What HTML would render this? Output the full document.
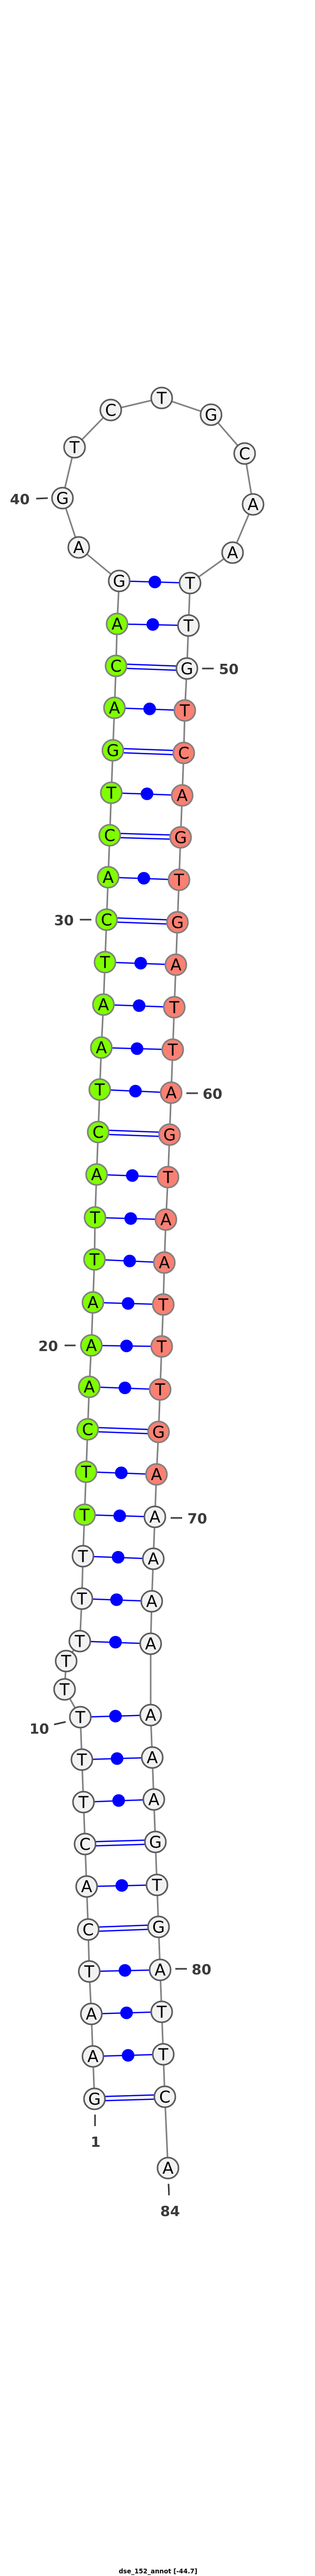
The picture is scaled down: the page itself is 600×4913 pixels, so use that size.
<!DOCTYPE html>
<html><head><meta charset="utf-8"><style>
html,body{margin:0;padding:0;background:#fff;}
svg{display:block;}
.bb{stroke:#808080;stroke-width:3;fill:none}
.bp{stroke:#0000ff;stroke-width:2.5}
.dot{fill:#0000ff}
.w{fill:#f2f2f2;stroke:#5a5a5a;stroke-width:3}
.g{fill:#7fff00;stroke:#808080;stroke-width:3}
.s{fill:#fa8072;stroke:#808080;stroke-width:3}
.n{font-family:"DejaVu Sans","Liberation Sans",sans-serif;font-size:31px;fill:#000;text-anchor:middle;dominant-baseline:central}
.lb{font-family:"DejaVu Sans","Liberation Sans",sans-serif;font-size:27px;font-weight:bold;fill:#3a3a3a;dominant-baseline:central}
.tk{stroke:#3a3a3a;stroke-width:3}
</style></head><body>
<svg width="600" height="4913" viewBox="0 0 600 4913" xmlns="http://www.w3.org/2000/svg">
<polyline class="bb" points="180,4003 177,3922 174,3841 170,3760 168,3680 165,3598 162,3517 159,3437 156,3356 153,3275 123,3222 126,3168 152,3130 156,3049 158,2968 161,2889 164,2807 167,2726 170,2645 174,2566 177,2484 180,2402 181,2322 184,2240 187,2159 190,2078 193,1998 197,1916 200,1835 203,1754 206,1673 209,1593 212,1512 215,1431 218,1350 221,1270 223,1190 227,1108 150,1044 119,950 142,853 211,782 308,759 402,791 466,865 482,962 443,1054 362,1112 359,1193 356,1275 352,1355 350,1436 347,1517 344,1597 341,1678 338,1759 335,1840 332,1921 329,2002 326,2084 323,2164 320,2245 316,2326 313,2408 311,2488 308,2568 305,2650 302,2731 298,2812 295,2893 292,2973 289,3054 287,3135 287,3271 290,3352 293,3432 296,3513 299,3595 302,3675 305,3757 308,3837 311,3918 314,3999 320,4135"/>
<g class="bp">
<line x1="227" y1="1108" x2="362" y2="1112"/>
<line x1="223" y1="1190" x2="359" y2="1193"/>
<line x1="218" y1="1350" x2="352" y2="1355"/>
<line x1="212" y1="1512" x2="347" y2="1517"/>
<line x1="206" y1="1673" x2="341" y2="1678"/>
<line x1="200" y1="1835" x2="335" y2="1840"/>
<line x1="197" y1="1916" x2="332" y2="1921"/>
<line x1="193" y1="1998" x2="329" y2="2002"/>
<line x1="190" y1="2078" x2="326" y2="2084"/>
<line x1="184" y1="2240" x2="320" y2="2245"/>
<line x1="181" y1="2322" x2="316" y2="2326"/>
<line x1="180" y1="2402" x2="313" y2="2408"/>
<line x1="177" y1="2484" x2="311" y2="2488"/>
<line x1="174" y1="2566" x2="308" y2="2568"/>
<line x1="170" y1="2645" x2="305" y2="2650"/>
<line x1="164" y1="2807" x2="298" y2="2812"/>
<line x1="161" y1="2889" x2="295" y2="2893"/>
<line x1="158" y1="2968" x2="292" y2="2973"/>
<line x1="156" y1="3049" x2="289" y2="3054"/>
<line x1="152" y1="3130" x2="287" y2="3135"/>
<line x1="153" y1="3275" x2="287" y2="3271"/>
<line x1="156" y1="3356" x2="290" y2="3352"/>
<line x1="159" y1="3437" x2="293" y2="3432"/>
<line x1="165" y1="3598" x2="299" y2="3595"/>
<line x1="170" y1="3760" x2="305" y2="3757"/>
<line x1="174" y1="3841" x2="308" y2="3837"/>
<line x1="177" y1="3922" x2="311" y2="3918"/>
<line x1="221" y1="1266" x2="356" y2="1271"/><line x1="221" y1="1274" x2="356" y2="1279"/>
<line x1="215" y1="1427" x2="350" y2="1432"/><line x1="215" y1="1435" x2="350" y2="1440"/>
<line x1="209" y1="1589" x2="344" y2="1593"/><line x1="209" y1="1597" x2="344" y2="1601"/>
<line x1="203" y1="1750" x2="338" y2="1755"/><line x1="203" y1="1758" x2="338" y2="1763"/>
<line x1="187" y1="2155" x2="323" y2="2160"/><line x1="187" y1="2163" x2="323" y2="2168"/>
<line x1="167" y1="2722" x2="302" y2="2727"/><line x1="167" y1="2730" x2="302" y2="2735"/>
<line x1="162" y1="3513" x2="296" y2="3509"/><line x1="162" y1="3521" x2="296" y2="3517"/>
<line x1="168" y1="3676" x2="302" y2="3671"/><line x1="168" y1="3684" x2="302" y2="3679"/>
<line x1="180" y1="3999" x2="314" y2="3995"/><line x1="180" y1="4007" x2="314" y2="4003"/>
</g>
<g class="dot">
<circle cx="295" cy="1110" r="12"/><circle cx="291" cy="1191" r="12"/>
<circle cx="285" cy="1352" r="12"/><circle cx="280" cy="1514" r="12"/>
<circle cx="274" cy="1675" r="12"/><circle cx="268" cy="1837" r="12"/>
<circle cx="265" cy="1918" r="12"/><circle cx="261" cy="2000" r="12"/>
<circle cx="258" cy="2081" r="12"/><circle cx="252" cy="2242" r="12"/>
<circle cx="249" cy="2324" r="12"/><circle cx="247" cy="2405" r="12"/>
<circle cx="244" cy="2486" r="12"/><circle cx="241" cy="2567" r="12"/>
<circle cx="238" cy="2647" r="12"/><circle cx="231" cy="2809" r="12"/>
<circle cx="228" cy="2891" r="12"/><circle cx="225" cy="2970" r="12"/>
<circle cx="222" cy="3051" r="12"/><circle cx="220" cy="3132" r="12"/>
<circle cx="220" cy="3273" r="12"/><circle cx="223" cy="3354" r="12"/>
<circle cx="226" cy="3434" r="12"/><circle cx="232" cy="3596" r="12"/>
<circle cx="238" cy="3758" r="12"/><circle cx="241" cy="3839" r="12"/>
<circle cx="244" cy="3920" r="12"/>
</g>
<g>
<circle class="w" cx="180" cy="4003" r="20"/><text class="n" x="180" y="4004">G</text>
<circle class="w" cx="177" cy="3922" r="20"/><text class="n" x="177" y="3923">A</text>
<circle class="w" cx="174" cy="3841" r="20"/><text class="n" x="174" y="3842">A</text>
<circle class="w" cx="170" cy="3760" r="20"/><text class="n" x="170" y="3761">T</text>
<circle class="w" cx="168" cy="3680" r="20"/><text class="n" x="168" y="3681">C</text>
<circle class="w" cx="165" cy="3598" r="20"/><text class="n" x="165" y="3599">A</text>
<circle class="w" cx="162" cy="3517" r="20"/><text class="n" x="162" y="3518">C</text>
<circle class="w" cx="159" cy="3437" r="20"/><text class="n" x="159" y="3438">T</text>
<circle class="w" cx="156" cy="3356" r="20"/><text class="n" x="156" y="3357">T</text>
<circle class="w" cx="153" cy="3275" r="20"/><text class="n" x="153" y="3276">T</text>
<circle class="w" cx="123" cy="3222" r="20"/><text class="n" x="123" y="3223">T</text>
<circle class="w" cx="126" cy="3168" r="20"/><text class="n" x="126" y="3169">T</text>
<circle class="w" cx="152" cy="3130" r="20"/><text class="n" x="152" y="3131">T</text>
<circle class="w" cx="156" cy="3049" r="20"/><text class="n" x="156" y="3050">T</text>
<circle class="w" cx="158" cy="2968" r="20"/><text class="n" x="158" y="2969">T</text>
<circle class="g" cx="161" cy="2889" r="20"/><text class="n" x="161" y="2890">T</text>
<circle class="g" cx="164" cy="2807" r="20"/><text class="n" x="164" y="2808">T</text>
<circle class="g" cx="167" cy="2726" r="20"/><text class="n" x="167" y="2727">C</text>
<circle class="g" cx="170" cy="2645" r="20"/><text class="n" x="170" y="2646">A</text>
<circle class="g" cx="174" cy="2566" r="20"/><text class="n" x="174" y="2567">A</text>
<circle class="g" cx="177" cy="2484" r="20"/><text class="n" x="177" y="2485">A</text>
<circle class="g" cx="180" cy="2402" r="20"/><text class="n" x="180" y="2403">T</text>
<circle class="g" cx="181" cy="2322" r="20"/><text class="n" x="181" y="2323">T</text>
<circle class="g" cx="184" cy="2240" r="20"/><text class="n" x="184" y="2241">A</text>
<circle class="g" cx="187" cy="2159" r="20"/><text class="n" x="187" y="2160">C</text>
<circle class="g" cx="190" cy="2078" r="20"/><text class="n" x="190" y="2079">T</text>
<circle class="g" cx="193" cy="1998" r="20"/><text class="n" x="193" y="1999">A</text>
<circle class="g" cx="197" cy="1916" r="20"/><text class="n" x="197" y="1917">A</text>
<circle class="g" cx="200" cy="1835" r="20"/><text class="n" x="200" y="1836">T</text>
<circle class="g" cx="203" cy="1754" r="20"/><text class="n" x="203" y="1755">C</text>
<circle class="g" cx="206" cy="1673" r="20"/><text class="n" x="206" y="1674">A</text>
<circle class="g" cx="209" cy="1593" r="20"/><text class="n" x="209" y="1594">C</text>
<circle class="g" cx="212" cy="1512" r="20"/><text class="n" x="212" y="1513">T</text>
<circle class="g" cx="215" cy="1431" r="20"/><text class="n" x="215" y="1432">G</text>
<circle class="g" cx="218" cy="1350" r="20"/><text class="n" x="218" y="1351">A</text>
<circle class="g" cx="221" cy="1270" r="20"/><text class="n" x="221" y="1271">C</text>
<circle class="g" cx="223" cy="1190" r="20"/><text class="n" x="223" y="1191">A</text>
<circle class="w" cx="227" cy="1108" r="20"/><text class="n" x="227" y="1109">G</text>
<circle class="w" cx="150" cy="1044" r="20"/><text class="n" x="150" y="1045">A</text>
<circle class="w" cx="119" cy="950" r="20"/><text class="n" x="119" y="951">G</text>
<circle class="w" cx="142" cy="853" r="20"/><text class="n" x="142" y="854">T</text>
<circle class="w" cx="211" cy="782" r="20"/><text class="n" x="211" y="783">C</text>
<circle class="w" cx="308" cy="759" r="20"/><text class="n" x="308" y="760">T</text>
<circle class="w" cx="402" cy="791" r="20"/><text class="n" x="402" y="792">G</text>
<circle class="w" cx="466" cy="865" r="20"/><text class="n" x="466" y="866">C</text>
<circle class="w" cx="482" cy="962" r="20"/><text class="n" x="482" y="963">A</text>
<circle class="w" cx="443" cy="1054" r="20"/><text class="n" x="443" y="1055">A</text>
<circle class="w" cx="362" cy="1112" r="20"/><text class="n" x="362" y="1113">T</text>
<circle class="w" cx="359" cy="1193" r="20"/><text class="n" x="359" y="1194">T</text>
<circle class="w" cx="356" cy="1275" r="20"/><text class="n" x="356" y="1276">G</text>
<circle class="s" cx="352" cy="1355" r="20"/><text class="n" x="352" y="1356">T</text>
<circle class="s" cx="350" cy="1436" r="20"/><text class="n" x="350" y="1437">C</text>
<circle class="s" cx="347" cy="1517" r="20"/><text class="n" x="347" y="1518">A</text>
<circle class="s" cx="344" cy="1597" r="20"/><text class="n" x="344" y="1598">G</text>
<circle class="s" cx="341" cy="1678" r="20"/><text class="n" x="341" y="1679">T</text>
<circle class="s" cx="338" cy="1759" r="20"/><text class="n" x="338" y="1760">G</text>
<circle class="s" cx="335" cy="1840" r="20"/><text class="n" x="335" y="1841">A</text>
<circle class="s" cx="332" cy="1921" r="20"/><text class="n" x="332" y="1922">T</text>
<circle class="s" cx="329" cy="2002" r="20"/><text class="n" x="329" y="2003">T</text>
<circle class="s" cx="326" cy="2084" r="20"/><text class="n" x="326" y="2085">A</text>
<circle class="s" cx="323" cy="2164" r="20"/><text class="n" x="323" y="2165">G</text>
<circle class="s" cx="320" cy="2245" r="20"/><text class="n" x="320" y="2246">T</text>
<circle class="s" cx="316" cy="2326" r="20"/><text class="n" x="316" y="2327">A</text>
<circle class="s" cx="313" cy="2408" r="20"/><text class="n" x="313" y="2409">A</text>
<circle class="s" cx="311" cy="2488" r="20"/><text class="n" x="311" y="2489">T</text>
<circle class="s" cx="308" cy="2568" r="20"/><text class="n" x="308" y="2569">T</text>
<circle class="s" cx="305" cy="2650" r="20"/><text class="n" x="305" y="2651">T</text>
<circle class="s" cx="302" cy="2731" r="20"/><text class="n" x="302" y="2732">G</text>
<circle class="s" cx="298" cy="2812" r="20"/><text class="n" x="298" y="2813">A</text>
<circle class="w" cx="295" cy="2893" r="20"/><text class="n" x="295" y="2894">A</text>
<circle class="w" cx="292" cy="2973" r="20"/><text class="n" x="292" y="2974">A</text>
<circle class="w" cx="289" cy="3054" r="20"/><text class="n" x="289" y="3055">A</text>
<circle class="w" cx="287" cy="3135" r="20"/><text class="n" x="287" y="3136">A</text>
<circle class="w" cx="287" cy="3271" r="20"/><text class="n" x="287" y="3272">A</text>
<circle class="w" cx="290" cy="3352" r="20"/><text class="n" x="290" y="3353">A</text>
<circle class="w" cx="293" cy="3432" r="20"/><text class="n" x="293" y="3433">A</text>
<circle class="w" cx="296" cy="3513" r="20"/><text class="n" x="296" y="3514">G</text>
<circle class="w" cx="299" cy="3595" r="20"/><text class="n" x="299" y="3596">T</text>
<circle class="w" cx="302" cy="3675" r="20"/><text class="n" x="302" y="3676">G</text>
<circle class="w" cx="305" cy="3757" r="20"/><text class="n" x="305" y="3758">A</text>
<circle class="w" cx="308" cy="3837" r="20"/><text class="n" x="308" y="3838">T</text>
<circle class="w" cx="311" cy="3918" r="20"/><text class="n" x="311" y="3919">T</text>
<circle class="w" cx="314" cy="3999" r="20"/><text class="n" x="314" y="4000">C</text>
<circle class="w" cx="320" cy="4135" r="20"/><text class="n" x="320" y="4136">A</text>
</g>
<g>
<line class="tk" x1="69" y1="951" x2="91" y2="950"/><text class="lb" x="19" y="953">40</text>
<line class="tk" x1="385" y1="1275" x2="407" y2="1275"/><text class="lb" x="417" y="1277">50</text>
<line class="tk" x1="152" y1="1754" x2="174" y2="1754"/><text class="lb" x="103" y="1756">30</text>
<line class="tk" x1="355" y1="2085" x2="377" y2="2085"/><text class="lb" x="386" y="2087">60</text>
<line class="tk" x1="123" y1="2566" x2="144" y2="2566"/><text class="lb" x="73" y="2568">20</text>
<line class="tk" x1="325" y1="2895" x2="347" y2="2895"/><text class="lb" x="357" y="2897">70</text>
<line class="tk" x1="103" y1="3289" x2="125" y2="3284"/><text class="lb" x="56" y="3298">10</text>
<line class="tk" x1="334" y1="3755" x2="356" y2="3755"/><text class="lb" x="365" y="3757">80</text>
<line class="tk" x1="181" y1="4033" x2="181" y2="4055"/><text class="lb" x="182" y="4086" text-anchor="middle">1</text>
<line class="tk" x1="321" y1="4165" x2="322" y2="4187"/><text class="lb" x="324" y="4218" text-anchor="middle">84</text>
<text x="301" y="4904" font-family="DejaVu Sans, Liberation Sans, sans-serif" font-size="12" font-weight="bold" fill="#000" text-anchor="middle" dominant-baseline="central">dse_152_annot [-44.7]</text>
</g>
</svg>
</body></html>
